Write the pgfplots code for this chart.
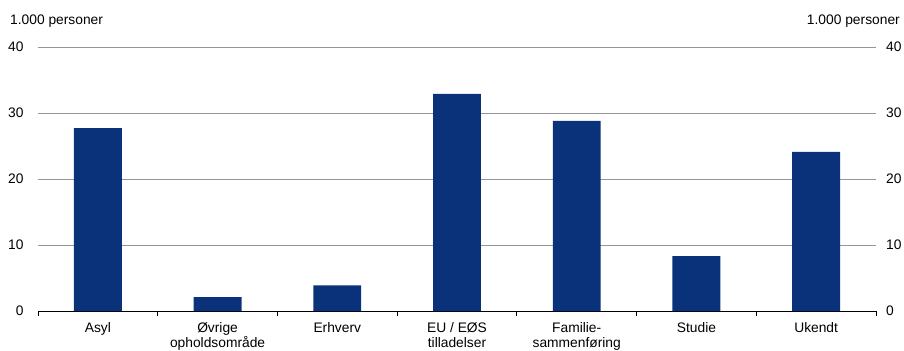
\documentclass[border=0pt]{standalone}
\usepackage{pgfplots}
\pgfplotsset{compat=1.18}
\usepackage{fontspec}
\setmainfont{Liberation Sans}
\definecolor{barblue}{RGB}{10,50,122}
\definecolor{gridgray}{RGB}{150,150,150}
\begin{document}
\fontsize{13.8bp}{16bp}\selectfont
\begin{tikzpicture}
\useasboundingbox (-38bp,-40bp) rectangle (866bp,311bp);
\pgfplotsset{
  base/.style={
    width=838bp, height=264bp, scale only axis,
    at={(0,0)}, anchor=south west,
    xmin=-0.5, xmax=6.5, ymin=0, ymax=40,
    ytick={0,10,20,30,40},
    /pgf/number format/assume math mode=true,
    tick label style={font=\fontsize{13.8bp}{16bp}\selectfont},
  }
}
\begin{axis}[base,
  axis y line*=left, axis x line*=bottom,
  y axis line style={draw=none},
  x axis line style={black, line width=0.9bp},
  ymajorgrids, grid style={gridgray, line width=0.8bp},
  ytick style={draw=none},
  yticklabel style={inner sep=0pt, xshift=-10bp},
  xtick={0,...,6},
  xticklabels={Asyl, {Øvrige\\opholdsområde}, Erhverv, {EU / EØS\\tilladelser}, {Familie-\\sammenføring}, Studie, Ukendt},
  xticklabel style={align=center, inner sep=0pt, yshift=-7bp, font=\fontsize{13.8bp}{15.5bp}\selectfont},
  major x tick style={draw=none},
  minor xtick={-0.5,0.5,...,6.5},
  minor x tick style={black, line width=0.9bp},
  minor tick length=5bp,
  tick align=outside,
  clip=false,
]
\addplot[ybar, bar width=0.4, fill=barblue, draw=none] coordinates {
  (0,27.7) (1,2.1) (2,3.9) (3,32.9) (4,28.8) (5,8.3) (6,24.1)
};
\node[anchor=base west, inner sep=0pt] at (rel axis cs:0,1) [xshift=-28bp, yshift=23bp] {1.000 personer};
\node[anchor=base east, inner sep=0pt] at (rel axis cs:1,1) [xshift=24bp, yshift=23bp] {1.000 personer};
\end{axis}
\begin{axis}[base,
  axis y line*=right, axis x line=none,
  y axis line style={draw=none},
  ytick style={draw=none},
  yticklabel style={inner sep=0pt, xshift=10bp},
]
\end{axis}
\end{tikzpicture}
\end{document}
